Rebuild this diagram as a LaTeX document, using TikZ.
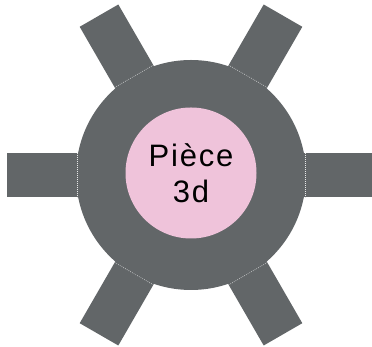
\documentclass[tikz,border=0pt]{standalone}
\usepackage{fontspec}
\setmainfont{Liberation Sans}
\definecolor{geargray}{RGB}{98,102,104}
\definecolor{hubpink}{RGB}{239,195,218}
\tikzset{
  armbox/.style={fill=geargray},
  seam/.style={draw=white!85!geargray, line width=0.6pt, dash pattern=on 0.7pt off 1.3pt},
  hubtext/.style={circle, fill=hubpink, minimum size=131pt, inner sep=0pt, align=center,
    font=\fontsize{31}{36}\selectfont\addfontfeature{LetterSpace=6}}
}
\begin{document}
\begin{tikzpicture}[x=1pt,y=1pt]
\useasboundingbox (0,0) rectangle (372,347);
\clip (0,0) rectangle (372,347);
\coordinate (c) at (191,172);
\fill[geargray] (c) circle (115);
\foreach \a in {0,60,...,300} {
  \begin{scope}[shift={(c)}, rotate=\a]
    \fill[armbox] (112,-22.3) rectangle (184,22.3);
    \draw[seam] (114,-22.3) -- (114,22.3);
  \end{scope}
}
\node[hubtext] (hub) at ([yshift=2]c) {Pièce\\3d};
\end{tikzpicture}
\end{document}
